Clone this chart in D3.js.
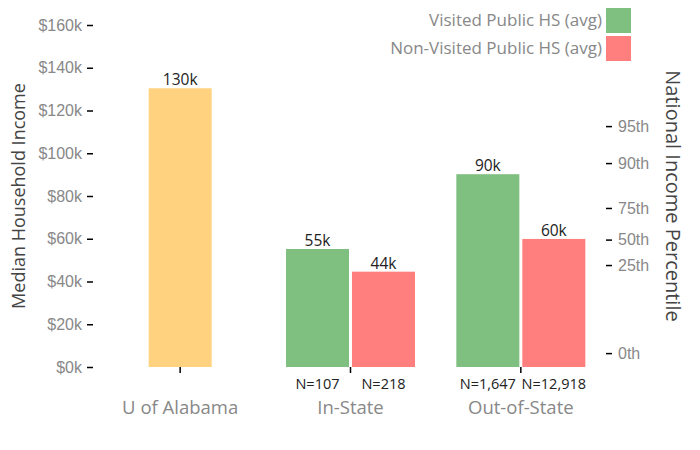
<!DOCTYPE html>
<html>
<head>
<meta charset="utf-8">
<script src="https://cdn.jsdelivr.net/npm/d3@7"></script>
<style>
  body { margin: 0; background: #fff; }
  svg { font-family: "Open Sans", Lato, sans-serif; }
</style>
</head>
<body>
<svg id="chart" width="700" height="450"></svg>
<script>
// data (income in thousands of $)
const groups = ["U of Alabama", "In-State", "Out-of-State"];
const series = ["ua", "visited", "nonVisited"];
const legendLabels = ["Visited Public HS (avg)", "Non-Visited Public HS (avg)"];
const barGroup = ["U of Alabama", "In-State", "In-State", "Out-of-State", "Out-of-State"];
const barSeries = ["ua", "visited", "nonVisited", "visited", "nonVisited"];
const barValues = [130.4, 55.2, 44.6, 90.2, 59.9];
const barLabels = ["130k", "55k", "44k", "90k", "60k"];
const barN = ["", "N=107", "N=218", "N=1,647", "N=12,918"];
const incomeTicks = [0, 20, 40, 60, 80, 100, 120, 140, 160];
const pctLabels = ["0th", "25th", "50th", "75th", "90th", "95th"];
const pctIncome = [6.5, 47.7, 59.6, 74.4, 95.4, 112.7];

const colors = {ua: "rgba(255,165,0,0.5)", visited: "rgba(0,128,0,0.5)", nonVisited: "rgba(255,0,0,0.5)"};

const svg = d3.select("#chart");

const x = d3.scaleBand().domain(groups).range([95, 606]).padding(0);
const y = d3.scaleLinear().domain([0, 160]).range([367, 25]);
const barW = 63, gap = 3;

const bars = barValues.map((v, i) => {
    const inGroup = barGroup.filter(g => g === barGroup[i]).length;
    const idx = barGroup.slice(0, i).filter(g => g === barGroup[i]).length;
    const center = x(barGroup[i]) + x.bandwidth() / 2;
    const start = center - (inGroup * barW + (inGroup - 1) * gap) / 2;
    return {value: v, label: barLabels[i], n: barN[i], series: barSeries[i],
            x0: start + idx * (barW + gap)};
});

// bars
svg.append("g").selectAll("rect")
    .data(bars)
    .join("rect")
    .attr("x", d => d.x0)
    .attr("y", d => y(d.value))
    .attr("width", barW)
    .attr("height", d => y(0) - y(d.value))
    .attr("fill", d => colors[d.series]);

// value labels
svg.append("g").selectAll("text")
    .data(bars)
    .join("text")
    .attr("x", d => d.x0 + barW / 2)
    .attr("y", d => y(d.value) - 3)
    .attr("text-anchor", "middle")
    .attr("font-size", 15.5)
    .attr("fill", "#222")
    .text(d => d.label);

// N labels
svg.append("g").selectAll("text")
    .data(bars.filter(d => d.n))
    .join("text")
    .attr("x", d => d.x0 + barW / 2)
    .attr("y", 389)
    .attr("text-anchor", "middle")
    .attr("font-size", 14.5)
    .attr("fill", "#222")
    .text(d => d.n);

// left axis
const yAxis = svg.append("g")
    .attr("transform", "translate(93,0)")
    .call(d3.axisLeft(y).tickValues(incomeTicks).tickFormat(d => "$" + d + "k").tickSize(6).tickPadding(5));
yAxis.select(".domain").remove();
yAxis.selectAll(".tick line").attr("stroke", "#000").attr("stroke-width", 1.5);
yAxis.selectAll(".tick text").attr("font-size", 16).attr("fill", "#888").attr("font-family", null);

// right axis (percentiles)
const rAxis = svg.append("g")
    .attr("transform", "translate(606,0)")
    .call(d3.axisRight(y).tickValues(pctIncome).tickFormat((d, i) => pctLabels[i]).tickSize(6).tickPadding(6));
rAxis.select(".domain").remove();
rAxis.selectAll(".tick line").attr("stroke", "#000").attr("stroke-width", 1.5);
rAxis.selectAll(".tick text").attr("font-size", 16).attr("fill", "#888").attr("font-family", null);

// bottom axis
const xAxis = svg.append("g")
    .attr("transform", "translate(0,367)")
    .call(d3.axisBottom(x).tickSize(6).tickFormat(""));
xAxis.select(".domain").remove();
xAxis.selectAll(".tick line").attr("stroke", "#000").attr("stroke-width", 1.5);

// category labels
svg.append("g").selectAll("text")
    .data(groups)
    .join("text")
    .attr("x", d => x(d) + x.bandwidth() / 2)
    .attr("y", 414)
    .attr("text-anchor", "middle")
    .attr("font-size", 18.5)
    .attr("fill", "#888")
    .text(d => d);

// axis titles
svg.append("text")
    .attr("transform", "translate(25,196) rotate(-90)")
    .attr("text-anchor", "middle")
    .attr("font-size", 18)
    .attr("fill", "#444")
    .text("Median Household Income");

svg.append("text")
    .attr("transform", "translate(666,196) rotate(90)")
    .attr("text-anchor", "middle")
    .attr("font-size", 20)
    .attr("fill", "#444")
    .text("National Income Percentile");

// legend
const legend = svg.append("g").selectAll("g")
    .data(legendLabels)
    .join("g")
    .attr("transform", (d, i) => `translate(606,${8 + i * 28})`);
legend.append("rect")
    .attr("width", 25)
    .attr("height", 25)
    .attr("fill", (d, i) => colors[series[i + 1]]);
legend.append("text")
    .attr("x", -4)
    .attr("y", 18)
    .attr("text-anchor", "end")
    .attr("font-size", 17)
    .attr("fill", "#888")
    .text(d => d);
</script>
</body>
</html>
